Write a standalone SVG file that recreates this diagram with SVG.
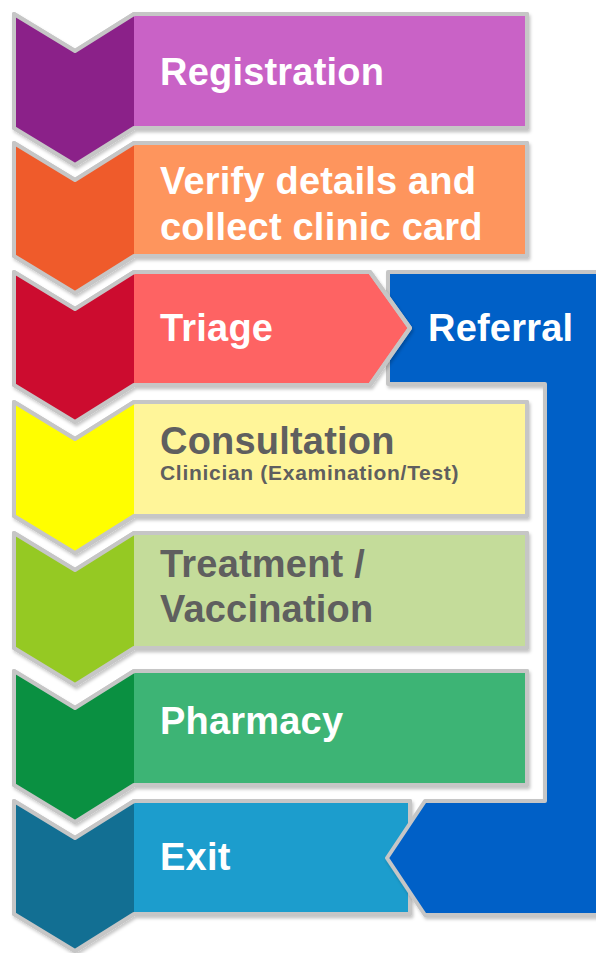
<svg xmlns="http://www.w3.org/2000/svg" width="596" height="953" viewBox="0 0 596 953">
<defs>
<filter id="sh" x="-10%" y="-10%" width="120%" height="130%">
<feDropShadow dx="1.5" dy="2.5" stdDeviation="1.5" flood-color="#000" flood-opacity="0.22"/>
</filter>
<style>
.ol{stroke:#c6c6c6;stroke-width:4;stroke-linejoin:round}
.ln{fill:none;stroke:#c6c6c6;stroke-width:4;stroke-linejoin:round}
.t{font-family:"Liberation Sans",Arial,Helvetica,sans-serif;font-weight:bold;font-size:38px;letter-spacing:0.2px}
.w{fill:#ffffff}
.g{fill:#5f5f5f}
.s{font-size:21px;letter-spacing:0.7px}
</style>
</defs>
<rect width="596" height="953" fill="#ffffff"/>

<g id="exit">
<path class="ol" filter="url(#sh)" fill="#1f9dcd" d="M14,801 L75,838 L134,801 L410,801 L410,914 L134,914 L75,951 L14,914 Z"/>
<path fill="#126f93" d="M14,801 L75,838 L134,801 L134,914 L75,951 L14,914 Z"/>
<path class="ln" d="M14,801 L75,838 L134,801 L410,801 L410,914 L134,914 L75,951 L14,914 Z"/>
</g>

<g id="referral">
<path class="ol" filter="url(#sh)" fill="#0060c7" d="M388,272 L612,272 L612,915 L425,915 L387,858 L425,801 L545,801 L545,384 L388,384 Z"/>
<text class="t w" x="428" y="341">Referral</text>
</g>

<g id="registration">
<path class="ol" filter="url(#sh)" fill="#c962c6" d="M14,14 L75,51 L134,14 L527,14 L527,128 L134,128 L75,165 L14,128 Z"/>
<path fill="#8b2189" d="M14,14 L75,51 L134,14 L134,128 L75,165 L14,128 Z"/>
<path class="ln" d="M14,14 L75,51 L134,14 L527,14 L527,128 L134,128 L75,165 L14,128 Z"/>
<text class="t w" x="160" y="85">Registration</text>
</g>

<g id="verify">
<path class="ol" filter="url(#sh)" fill="#fe955d" d="M14,143 L75,180 L134,143 L527,143 L527,256 L134,256 L75,293 L14,256 Z"/>
<path fill="#ef5b2b" d="M14,143 L75,180 L134,143 L134,256 L75,293 L14,256 Z"/>
<path class="ln" d="M14,143 L75,180 L134,143 L527,143 L527,256 L134,256 L75,293 L14,256 Z"/>
<text class="t w" x="160" y="194">Verify details and</text>
<text class="t w" x="160" y="240">collect clinic card</text>
</g>

<g id="triage">
<path class="ol" filter="url(#sh)" fill="#fe6464" d="M14,272 L75,309 L134,272 L370,272 L410,328 L370,385 L134,385 L75,422 L14,385 Z"/>
<path fill="#cc0c2f" d="M14,272 L75,309 L134,272 L134,385 L75,422 L14,385 Z"/>
<path class="ln" d="M14,272 L75,309 L134,272 L370,272 L410,328 L370,385 L134,385 L75,422 L14,385 Z"/>
<text class="t w" x="160" y="341">Triage</text>
</g>

<g id="consultation">
<path class="ol" filter="url(#sh)" fill="#fff599" d="M14,402 L75,439 L134,402 L527,402 L527,516 L134,516 L75,553 L14,516 Z"/>
<path fill="#fffe00" d="M14,402 L75,439 L134,402 L134,516 L75,553 L14,516 Z"/>
<path class="ln" d="M14,402 L75,439 L134,402 L527,402 L527,516 L134,516 L75,553 L14,516 Z"/>
<text class="t g" x="160" y="454">Consultation</text>
<text class="t g s" x="160" y="480">Clinician (Examination/Test)</text>
</g>

<g id="treatment">
<path class="ol" filter="url(#sh)" fill="#c4dc9a" d="M14,533 L75,570 L134,533 L527,533 L527,648 L134,648 L75,685 L14,648 Z"/>
<path fill="#95c923" d="M14,533 L75,570 L134,533 L134,648 L75,685 L14,648 Z"/>
<path class="ln" d="M14,533 L75,570 L134,533 L527,533 L527,648 L134,648 L75,685 L14,648 Z"/>
<text class="t g" x="160" y="577">Treatment /</text>
<text class="t g" x="160" y="622">Vaccination</text>
</g>

<g id="pharmacy">
<path class="ol" filter="url(#sh)" fill="#3db474" d="M14,671 L75,708 L134,671 L527,671 L527,785 L134,785 L75,822 L14,785 Z"/>
<path fill="#0a9041" d="M14,671 L75,708 L134,671 L134,785 L75,822 L14,785 Z"/>
<path class="ln" d="M14,671 L75,708 L134,671 L527,671 L527,785 L134,785 L75,822 L14,785 Z"/>
<text class="t w" x="160" y="734">Pharmacy</text>
</g>

<g id="exit-label">
<text class="t w" x="160" y="870">Exit</text>
</g>
</svg>
